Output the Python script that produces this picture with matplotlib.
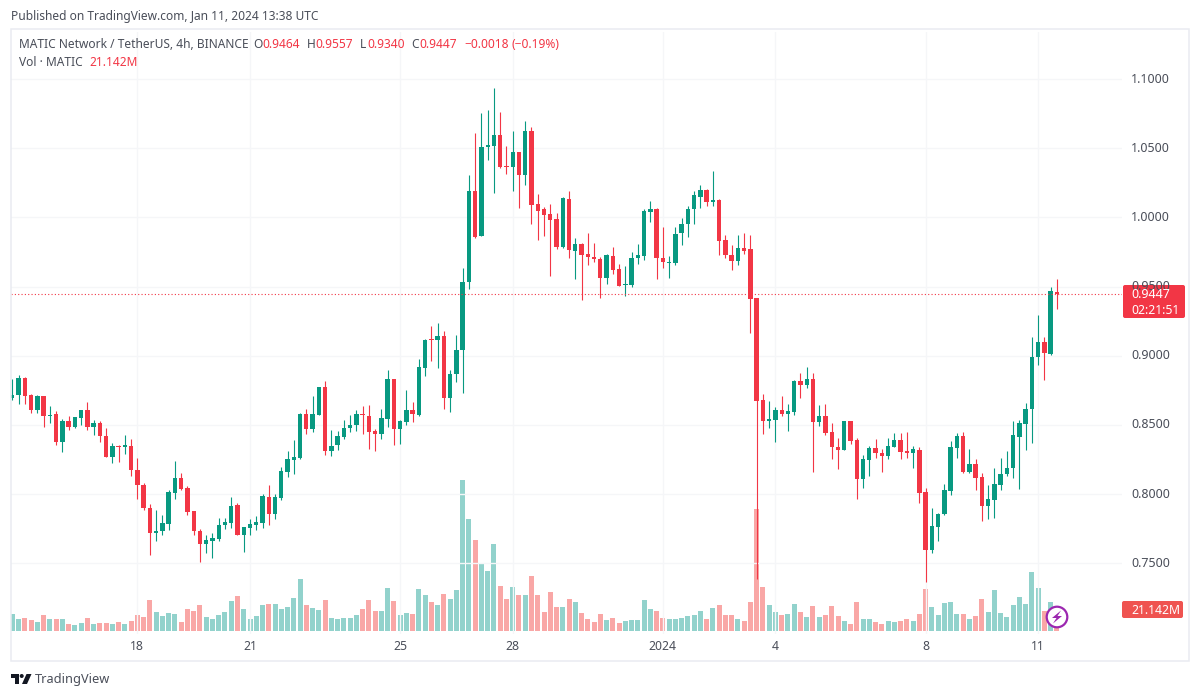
import matplotlib
matplotlib.use('Agg')
import matplotlib.pyplot as plt
from matplotlib.patches import Circle, FancyBboxPatch, Polygon, Rectangle

# MATIC/USDT 4h candles, Dec 2023 - Jan 2024
opens = [
    .8694, .8714, .8839, .8714, .8605, .8706, .8564, .8576, .8377, .8526,
    .8483, .8550, .8610, .8485, .8512, .8418, .8269, .8345, .8341, .8350,
    .8177, .8069, .7898, .7720, .7732, .7787, .8009, .8117, .8045, .7876,
    .7737, .7643, .7660, .7677, .7775, .7792, .7924, .7708, .7756, .7780,
    .7792, .7977, .7859, .7973, .8160, .8249, .8261, .8577, .8473, .8575,
    .8773, .8312, .8353, .8413, .8478, .8500, .8577, .8568, .8454, .8432,
    .8546, .8835, .8469, .8522, .8611, .8575, .8912, .9120, .9112, .9141,
    .8691, .8867, .9043, .9533, 1.0191, .9868, 1.0505, 1.0519, 1.0596, 1.0372,
    1.0367, 1.0469, 1.0307, 1.0621, 1.0095, 1.0059, 1.0022, .9986, .9788, 1.0131,
    .9760, .9805, .9733, .9714, .9702, .9559, .9721, .9624, .9511, .9511,
    .9704, .9723, 1.0042, 1.0059, .9709, .9673, .9673, .9885, .9952, 1.0059,
    1.0150, 1.0196, 1.0114, 1.0124, .9834, .9731, .9687, .9781, .9769, .9416,
    .8681, .8529, .8536, .8606, .8580, .8597, .8818, .8789, .8830, .8524,
    .8565, .8450, .8341, .8319, .8529, .8389, .8110, .8247, .8334, .8298,
    .8276, .8344, .8389, .8312, .8295, .8322, .8016, .7596, .7765, .7857,
    .8023, .8336, .8421, .8163, .8216, .8124, .7917, .7958, .8066, .8146,
    .8187, .8416, .8507, .8613, .8989, .9100, .9013, .9464,
]
closes = [
    .8718, .8839, .8709, .8605, .8706, .8564, .8574, .8377, .8526, .8485,
    .8555, .8610, .8485, .8512, .8418, .8269, .8345, .8341, .8353, .8172,
    .8064, .7896, .7720, .7737, .7790, .8013, .8117, .8040, .7869, .7732,
    .7643, .7665, .7681, .7780, .7797, .7917, .7708, .7761, .7785, .7797,
    .7985, .7859, .7977, .8165, .8254, .8266, .8582, .8473, .8582, .8773,
    .8312, .8350, .8418, .8481, .8502, .8580, .8570, .8449, .8432, .8548,
    .8835, .8469, .8527, .8611, .8577, .8917, .9117, .9115, .9141, .8691,
    .8871, .9045, .9533, 1.0191, .9861, 1.0510, 1.0524, 1.0596, 1.0367, 1.0367,
    1.0469, 1.0307, 1.0625, 1.0090, 1.0049, 1.0018, .9981, .9784, 1.0138, .9764,
    .9805, .9728, .9711, .9699, .9559, .9728, .9620, .9506, .9518, .9709,
    .9728, 1.0047, 1.0059, .9704, .9675, .9680, .9883, .9955, 1.0059, 1.0160,
    1.0198, 1.0114, 1.0126, .9832, .9731, .9687, .9779, .9760, .9410, .8674,
    .8529, .8541, .8606, .8577, .8599, .8818, .8789, .8830, .8524, .8565,
    .8445, .8344, .8319, .8529, .8387, .8110, .8252, .8334, .8295, .8276,
    .8346, .8389, .8307, .8295, .8324, .8011, .7596, .7770, .7857, .8028,
    .8341, .8421, .8163, .8216, .8119, .7917, .7963, .8071, .8148, .8192,
    .8428, .8517, .8618, .8992, .9100, .9023, .9469, .9447,
]
highs = [
    .8834, .8863, .8844, .8726, .8718, .8706, .8634, .8598, .8543, .8562,
    .8557, .8610, .8665, .8538, .8531, .8475, .8372, .8355, .8425, .8398,
    .8261, .8083, .7932, .7884, .7852, .8028, .8237, .8153, .8057, .7876,
    .7749, .7708, .7720, .7828, .7828, .7977, .7939, .7761, .7823, .7840,
    .8001, .8069, .8001, .8194, .8314, .8394, .8587, .8618, .8707, .8773,
    .8816, .8466, .8454, .8539, .8570, .8611, .8635, .8642, .8473, .8618,
    .8900, .8835, .8539, .8751, .8666, .8973, .9122, .9214, .9238, .9178,
    .8896, .9149, .9637, 1.0307, 1.0609, 1.0753, 1.0777, 1.0934, 1.0765, 1.0519,
    1.0621, 1.0473, 1.0698, 1.0650, 1.0167, 1.0073, 1.0095, 1.0030, 1.0150, 1.0191,
    .9849, .9813, .9890, .9813, .9711, .9733, .9788, .9661, .9649, .9747,
    .9805, 1.0059, 1.0119, 1.0071, .9928, .9721, .9933, .9993, 1.0083, 1.0191,
    1.0235, 1.0203, 1.0336, 1.0131, .9873, .9801, .9873, .9890, .9873, .9416,
    .8724, .8674, .8628, .8710, .8650, .8826, .8874, .8919, .8874, .8645,
    .8650, .8512, .8404, .8529, .8529, .8404, .8283, .8348, .8397, .8324,
    .8404, .8440, .8440, .8447, .8348, .8339, .8042, .7898, .7862, .8071,
    .8384, .8440, .8450, .8324, .8257, .8151, .8066, .8187, .8264, .8312,
    .8529, .8536, .8657, .9132, .9295, .9137, .9500, .9557,
]
lows = [
    .8677, .8653, .8653, .8586, .8586, .8485, .8514, .8358, .8305, .8466,
    .8480, .8502, .8461, .8425, .8377, .8269, .8225, .8232, .8293, .8131,
    .7968, .7884, .7559, .7660, .7703, .7744, .7968, .8033, .7847, .7703,
    .7511, .7571, .7539, .7660, .7751, .7756, .7708, .7583, .7703, .7739,
    .7756, .7780, .7823, .7961, .8124, .8148, .8256, .8432, .8449, .8575,
    .8280, .8276, .8317, .8401, .8449, .8457, .8437, .8329, .8312, .8396,
    .8486, .8353, .8360, .8498, .8522, .8565, .8855, .8961, .8908, .8618,
    .8594, .8811, .8734, .9482, .9849, .9868, 1.0416, 1.0174, 1.0355, 1.0312,
    1.0194, 1.0066, 1.0235, .9952, .9837, .9868, .9579, .9772, .9781, .9709,
    .9552, .9403, .9656, .9680, .9415, .9518, .9591, .9506, .9434, .9499,
    .9661, .9692, .9965, .9552, .9632, .9559, .9656, .9801, .9856, .9952,
    1.0066, 1.0083, 1.0085, .9728, .9704, .9620, .9656, .9735, .9163, .7384,
    .8435, .8476, .8380, .8568, .8459, .8572, .8693, .8770, .8163, .8495,
    .8428, .8252, .8180, .8319, .8360, .7963, .8047, .8131, .8264, .8163,
    .8257, .8344, .8252, .8264, .8187, .7934, .7367, .7572, .7661, .7849,
    .7994, .8259, .8151, .8156, .8030, .7806, .7818, .7825, .8030, .8134,
    .8115, .8035, .8319, .8372, .8934, .8826, .9006, .9340,
]
# volume in millions
volumes = [
    16.7, 11.7, 13.3, 10.7, 9.0, 15.7, 11.7, 12.3, 11.7, 7.3,
    5.7, 8.0, 13.3, 7.3, 8.3, 8.3, 7.3, 9.0, 7.3, 10.0,
    15.7, 14.0, 30.7, 19.0, 15.0, 18.0, 16.7, 9.0, 22.3, 20.0,
    25.7, 14.0, 12.3, 15.7, 19.0, 30.0, 35.0, 22.3, 12.3, 15.0,
    25.7, 26.7, 26.7, 21.7, 24.0, 33.3, 51.7, 25.7, 23.3, 20.7,
    30.7, 13.3, 11.7, 13.3, 13.3, 15.7, 21.7, 30.7, 20.0, 20.0,
    42.7, 30.0, 15.7, 18.3, 16.7, 41.7, 35.7, 29.0, 25.7, 37.3,
    32.3, 40.7, 151.0, 111.7, 91.0, 68.3, 60.0, 86.7, 45.0, 32.3,
    44.0, 35.7, 35.7, 55.0, 35.7, 19.0, 39.0, 24.0, 24.0, 32.3,
    29.0, 18.3, 12.3, 9.0, 16.7, 10.7, 13.3, 8.3, 10.0, 10.7,
    10.7, 30.7, 22.3, 20.0, 13.3, 12.3, 11.7, 13.3, 15.0, 15.7,
    20.0, 11.7, 23.3, 25.7, 15.7, 15.7, 11.7, 10.0, 29.0, 121.7,
    44.0, 25.7, 19.0, 15.7, 17.3, 26.7, 19.0, 14.0, 25.0, 14.0,
    15.7, 25.0, 15.0, 10.0, 7.3, 29.0, 11.7, 11.7, 9.0, 6.7,
    10.0, 9.0, 10.0, 12.3, 10.0, 16.7, 42.3, 24.0, 15.7, 28.3,
    29.0, 17.3, 16.7, 12.3, 15.0, 31.7, 19.0, 40.7, 18.3, 14.0,
    25.7, 34.0, 26.7, 59.0, 43.3, 20.0, 29.0, 21.142,
]

date_pos = [20, 38, 62, 80, 104, 122, 146, 164]
date_labels = ['18', '21', '25', '28', '2024', '4', '8', '11']
price_ticks = [0.75, 0.80, 0.85, 0.90, 0.95, 1.00, 1.05, 1.10]

GREEN = '#089981'
RED = '#f23645'
VOL_GREEN = '#26a69a'
VOL_RED = '#f4504f'
GRID = '#f5f6f8'
BORDER = '#e9ebf1'
TEXT = '#4a4e59'
FONT = 'Noto Sans'
HEAD_SIZE = 8.6

W, H = 1200, 697
plt.rcParams['font.family'] = [FONT, 'DejaVu Sans']
fig = plt.figure(figsize=(W / 100, H / 100), dpi=100, facecolor='white')

# plot pane, in pixels from the top left corner
left, right, top, bottom = 11, 1122, 32, 634
rect = [left / W, 1 - bottom / H, (right - left) / W, (bottom - top) / H]
ax_vol = fig.add_axes(rect, zorder=1)
ax = fig.add_axes(rect, zorder=2, sharex=ax_vol)
ax.patch.set_visible(False)

xs = list(range(len(closes)))
up = [c >= o for o, c in zip(opens, closes)]
candle_colors = [GREEN if u else RED for u in up]
vol_colors = [VOL_GREEN if u else VOL_RED for u in up]

ax_vol.bar(xs, volumes, width=0.8, color=vol_colors, alpha=0.5, linewidth=0)
ax_vol.set_ylim(-3, 599)
ax_vol.set_yticks([])

ax.vlines(xs, lows, highs, colors=candle_colors, linewidth=0.8, zorder=3)
ax.bar(xs, [abs(c - o) for o, c in zip(opens, closes)],
       bottom=[min(o, c) for o, c in zip(opens, closes)],
       width=0.7, color=candle_colors, linewidth=0, zorder=4)
ax.axhline(closes[-1], color=RED, linewidth=0.8, linestyle=(0, (1, 2)), zorder=5)

ax.set_xlim(-0.208, 177.4)
ax.set_ylim(0.6989, 1.13397)
ax.set_xticks(date_pos)
ax.set_yticks(price_ticks)
ax.grid(True, color=GRID, linewidth=1.0)
ax.set_axisbelow(True)
ax.tick_params(length=0, labelbottom=False, labelleft=False)
ax_vol.tick_params(length=0, labelbottom=False)
for a in (ax, ax_vol):
    for s in a.spines.values():
        s.set_visible(False)

# overlay in pixel coordinates for the frame, labels and logo
ov = fig.add_axes([0, 0, 1, 1], zorder=3)
ov.set_xlim(0, W)
ov.set_ylim(H, 0)
ov.axis('off')
ov.add_patch(Rectangle((10.5, 29), 1178.5, 632, fill=False, edgecolor=BORDER, linewidth=1.1))

ov.text(11, 16.5, 'Published on TradingView.com, Jan 11, 2024 13:38 UTC',
        fontsize=HEAD_SIZE, color=TEXT, va='center')

# legend rows
ov.text(19, 45, 'MATIC Network / TetherUS, 4h, BINANCE', fontsize=HEAD_SIZE, color=TEXT, va='center')
for x, s, c in [(253, 'O', TEXT), (262, '0.9464', RED), (307, 'H', TEXT), (315, '0.9557', RED),
                (360, 'L', TEXT), (367, '0.9340', RED), (411, 'C', TEXT), (419, '0.9447', RED),
                (464, '\u22120.0018', RED), (512, '(\u22120.19%)', RED)]:
    ov.text(x, 45, s, fontsize=HEAD_SIZE, color=c, va='center')
ov.text(19, 62, 'Vol \u00b7 MATIC', fontsize=HEAD_SIZE, color=TEXT, va='center')
ov.text(89, 62, '21.142M', fontsize=HEAD_SIZE, color=RED, va='center')

# price scale
for p in price_ticks:
    y = ax.transData.transform((0, p))[1]
    ov.text(1131, H - y, '%.4f' % p, fontsize=9, color=TEXT, va='center')

# date scale
for d, s in zip(date_pos, date_labels):
    x = ax.transData.transform((d, 0))[0]
    ov.text(x, 646, s, fontsize=8.8, color=TEXT, ha='center', va='center',
            fontweight='bold' if s == '2024' else 'normal')

# last price and volume tags
ov.add_patch(FancyBboxPatch((1124, 286), 60, 31, boxstyle='round,pad=1,rounding_size=2',
                            facecolor=RED, edgecolor='none'))
ov.text(1131, 294, '%.4f' % closes[-1], fontsize=9, color='white', va='center', fontweight='medium')
ov.text(1131, 310, '02:21:51', fontsize=8.8, color='white', va='center')
ov.add_patch(FancyBboxPatch((1123, 602), 59, 15, boxstyle='round,pad=1,rounding_size=2',
                            facecolor='#ef5350', edgecolor='none'))
ov.text(1131, 610, '21.142M', fontsize=8.8, color='white', va='center', fontweight='medium')

# purple flash badge on the last bar
ov.add_patch(Circle((1057, 617), 10.3, facecolor='white', edgecolor='#9c27b0', linewidth=1.6))
ov.add_patch(Polygon([(1061, 610.5), (1052, 618), (1056.5, 618), (1053, 623.5), (1062, 616), (1057.5, 616)],
                     closed=True, facecolor='#9c27b0', edgecolor='none'))

# footer logo
logo = '#131722'
ov.add_patch(Polygon([(11, 674), (19, 674), (19, 684), (15, 684), (15, 677.5), (11, 677.5)],
                     closed=True, facecolor=logo, edgecolor='none'))
ov.add_patch(Circle((21.7, 676), 2, facecolor=logo, edgecolor='none'))
ov.add_patch(Polygon([(26.5, 674), (31.5, 674), (27, 684), (22, 684)],
                     closed=True, facecolor=logo, edgecolor='none'))
ov.text(35, 679.5, 'TradingView', fontsize=9.2, color='#4a4e59', va='center')

fig.savefig('out.png', dpi=100, facecolor='white')
